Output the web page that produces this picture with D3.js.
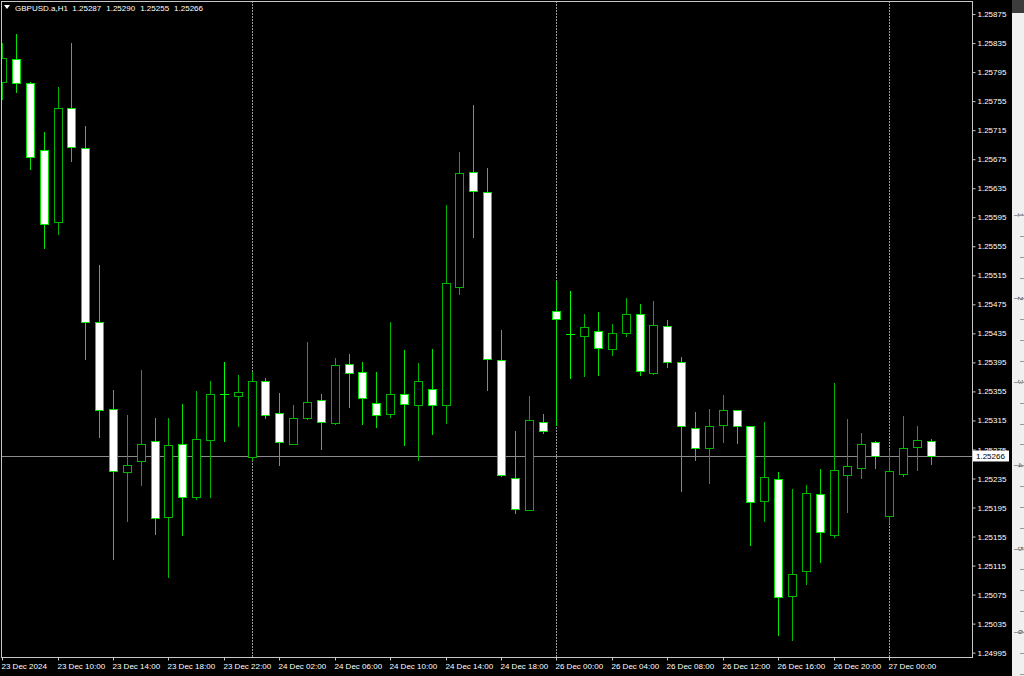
<!DOCTYPE html>
<html>
<head>
<meta charset="utf-8">
<script src="https://cdn.jsdelivr.net/npm/d3@7"></script>
<style>
  html, body { margin: 0; padding: 0; background: #000; overflow: hidden; }
  svg { display: block; }
  text { font-family: "Liberation Sans", Arial, sans-serif; }
</style>
</head>
<body>
<svg id="chart" width="1024" height="676"></svg>
<script>
// ---------- DATA ----------
const symbolTitle = "GBPUSD.a,H1";
const headerValues = ["1.25287", "1.25290", "1.25255", "1.25266"];

const times = [
  "23 Dec 06:00","23 Dec 07:00","23 Dec 08:00","23 Dec 09:00","23 Dec 10:00","23 Dec 11:00","23 Dec 12:00","23 Dec 13:00","23 Dec 14:00","23 Dec 15:00",
  "23 Dec 16:00","23 Dec 17:00","23 Dec 18:00","23 Dec 19:00","23 Dec 20:00","23 Dec 21:00","23 Dec 22:00","23 Dec 23:00","24 Dec 00:00","24 Dec 01:00",
  "24 Dec 02:00","24 Dec 03:00","24 Dec 04:00","24 Dec 05:00","24 Dec 06:00","24 Dec 07:00","24 Dec 08:00","24 Dec 09:00","24 Dec 10:00","24 Dec 11:00",
  "24 Dec 12:00","24 Dec 13:00","24 Dec 14:00","24 Dec 15:00","24 Dec 16:00","24 Dec 17:00","24 Dec 18:00","24 Dec 19:00","24 Dec 20:00","24 Dec 21:00",
  "26 Dec 00:00","26 Dec 01:00","26 Dec 02:00","26 Dec 03:00","26 Dec 04:00","26 Dec 05:00","26 Dec 06:00","26 Dec 07:00","26 Dec 08:00","26 Dec 09:00",
  "26 Dec 10:00","26 Dec 11:00","26 Dec 12:00","26 Dec 13:00","26 Dec 14:00","26 Dec 15:00","26 Dec 16:00","26 Dec 17:00","26 Dec 18:00","26 Dec 19:00",
  "26 Dec 20:00","26 Dec 21:00","26 Dec 22:00","26 Dec 23:00","27 Dec 00:00","27 Dec 01:00","27 Dec 02:00","27 Dec 03:00"
];

const opens = [
  1.25782,1.25813,1.25780,1.25688,1.25588,1.25746,1.25690,1.25451,1.25331,1.25244,
  1.25259,1.25286,1.25182,1.25282,1.25210,1.25288,1.25351,1.25349,1.25264,1.25369,
  1.25325,1.25283,1.25318,1.25343,1.25312,1.25393,1.25382,1.25339,1.25324,1.25352,
  1.25336,1.25358,1.25336,1.25499,1.25658,1.25630,1.25398,1.25235,1.25192,1.25313,
  1.25466,1.25434,1.25432,1.25438,1.25413,1.25435,1.25462,1.25381,1.25445,1.25395,
  1.25304,1.25277,1.25309,1.25329,1.25307,1.25204,1.25234,1.25073,1.25107,1.25214,
  1.25157,1.25240,1.25250,1.25285,1.25183,1.25241,1.25278,1.25287
];
const highs = [
  1.25835,1.25847,1.25782,1.25713,1.25775,1.25835,1.25721,1.25529,1.25357,1.25323,
  1.25385,1.25319,1.25318,1.25338,1.25355,1.25370,1.25395,1.25378,1.25382,1.25373,
  1.25353,1.25336,1.25423,1.25351,1.25401,1.25406,1.25395,1.25382,1.25450,1.25412,
  1.25394,1.25413,1.25612,1.25685,1.25750,1.25663,1.25440,1.25301,1.25349,1.25324,
  1.25507,1.25494,1.25462,1.25464,1.25448,1.25484,1.25476,1.25479,1.25454,1.25402,
  1.25327,1.25331,1.25350,1.25330,1.25308,1.25313,1.25244,1.25220,1.25226,1.25248,
  1.25366,1.25317,1.25297,1.25287,1.25274,1.25321,1.25308,1.25290
];
const lows = [
  1.25758,1.25768,1.25661,1.25552,1.25572,1.25673,1.25400,1.25292,1.25124,1.25177,
  1.25226,1.25159,1.25099,1.25157,1.25207,1.25209,1.25287,1.25307,1.25261,1.25318,
  1.25253,1.25282,1.25317,1.25276,1.25310,1.25334,1.25310,1.25306,1.25320,1.25281,
  1.25260,1.25296,1.25312,1.25489,1.25568,1.25357,1.25238,1.25188,1.25191,1.25297,
  1.25309,1.25374,1.25376,1.25377,1.25405,1.25431,1.25378,1.25379,1.25389,1.25218,
  1.25261,1.25229,1.25285,1.25284,1.25143,1.25176,1.25020,1.25012,1.25089,1.25120,
  1.25154,1.25189,1.25236,1.25250,1.25174,1.25238,1.25247,1.25255
];
const closes = [
  1.25814,1.25780,1.25678,1.25586,1.25746,1.25692,1.25450,1.25330,1.25246,1.25254,
  1.25283,1.25181,1.25281,1.25209,1.25290,1.25351,1.25351,1.25354,1.25370,1.25323,
  1.25285,1.25318,1.25340,1.25313,1.25391,1.25381,1.25346,1.25323,1.25351,1.25338,
  1.25369,1.25336,1.25504,1.25656,1.25631,1.25399,1.25240,1.25193,1.25316,1.25301,
  1.25455,1.25434,1.25444,1.25415,1.25435,1.25462,1.25383,1.25446,1.25396,1.25307,
  1.25277,1.25308,1.25329,1.25308,1.25202,1.25237,1.25072,1.25103,1.25215,1.25161,
  1.25247,1.25252,1.25282,1.25266,1.25246,1.25277,1.25288,1.25266
];

const timeTickTimes = [
  "23 Dec 06:00","23 Dec 10:00","23 Dec 14:00","23 Dec 18:00","23 Dec 22:00","24 Dec 02:00",
  "24 Dec 06:00","24 Dec 10:00","24 Dec 14:00","24 Dec 18:00","26 Dec 00:00","26 Dec 04:00",
  "26 Dec 08:00","26 Dec 12:00","26 Dec 16:00","26 Dec 20:00","27 Dec 00:00"
];
const timeTickLabels = [
  "23 Dec 2024","23 Dec 10:00","23 Dec 14:00","23 Dec 18:00","23 Dec 22:00","24 Dec 02:00",
  "24 Dec 06:00","24 Dec 10:00","24 Dec 14:00","24 Dec 18:00","26 Dec 00:00","26 Dec 04:00",
  "26 Dec 08:00","26 Dec 12:00","26 Dec 16:00","26 Dec 20:00","27 Dec 00:00"
];
const daySeparators = ["24 Dec 00:00","26 Dec 00:00","27 Dec 00:00"];

const priceTicks = [1.24995,1.25035,1.25075,1.25115,1.25155,1.25195,1.25235,1.25275,1.25315,1.25355,
  1.25395,1.25435,1.25475,1.25515,1.25555,1.25595,1.25635,1.25675,1.25715,1.25755,1.25795,1.25835,1.25875];
const currentPrice = 1.25266;
const rulerLabels = ["1","2","3","4","5","6"];

// ---------- LAYOUT ----------
const plotLeft = 1, plotRight = 972, plotTop = 1, plotBottom = 657;
const svg = d3.select("#chart");

svg.append("rect").attr("width", 1024).attr("height", 676).attr("fill", "#000");

const x = d3.scalePoint().domain(times).range([2.2, 930.6]);
const y = d3.scaleLinear().domain([1.24989, 1.25893]).range([plotBottom, plotTop]);

const bars = times.map((t, i) => ({ t, o: opens[i], h: highs[i], l: lows[i], c: closes[i] }));

// clip for plot area
svg.append("clipPath").attr("id", "plotclip")
  .append("rect").attr("x", plotLeft + 1).attr("y", plotTop + 1)
  .attr("width", plotRight - plotLeft - 1).attr("height", plotBottom - plotTop - 1);

const plot = svg.append("g").attr("clip-path", "url(#plotclip)");

// day separators
plot.selectAll("line.sep").data(daySeparators).join("line")
  .attr("class", "sep")
  .attr("x1", d => Math.round(x(d)) + 0.5).attr("x2", d => Math.round(x(d)) + 0.5)
  .attr("y1", plotTop).attr("y2", plotBottom)
  .attr("stroke", "#9a9a9a").attr("stroke-width", 1).attr("stroke-dasharray", "2,1");

// current price line
plot.append("line")
  .attr("x1", plotLeft).attr("x2", plotRight)
  .attr("y1", Math.round(y(currentPrice)) + 0.5).attr("y2", Math.round(y(currentPrice)) + 0.5)
  .attr("stroke", "#8c8c8c").attr("stroke-width", 1);

const bullColor = "#00b400", bearColor = "#00e400", dojiColor = "#00ff00";

const g = plot.selectAll("g.bar").data(bars).join("g").attr("class", "bar");
g.each(function(d) {
  const sel = d3.select(this);
  const cx = Math.round(x(d.t));
  const bull = d.c > d.o;
  const doji = Math.abs(d.c - d.o) < 0.000015;
  const col = doji ? dojiColor : (bull ? bullColor : bearColor);
  sel.append("line")
    .attr("x1", cx + 0.5).attr("x2", cx + 0.5)
    .attr("y1", Math.round(y(d.h))).attr("y2", Math.round(y(d.l)) + 1)
    .attr("stroke", col).attr("stroke-width", 1);
  if (doji) {
    const yy = Math.round(y(d.o)) + 0.5;
    sel.append("line").attr("x1", cx - 4).attr("x2", cx + 5)
      .attr("y1", yy).attr("y2", yy).attr("stroke", dojiColor).attr("stroke-width", 1);
  } else {
    const top = Math.round(y(Math.max(d.o, d.c)));
    const bot = Math.round(y(Math.min(d.o, d.c)));
    sel.append("rect")
      .attr("x", cx - 3.5).attr("width", 8)
      .attr("y", top + 0.5).attr("height", Math.max(1, bot - top))
      .attr("fill", bull ? "#000" : "#fff")
      .attr("stroke", col).attr("stroke-width", 1);
  }
});

// frame
svg.append("rect")
  .attr("x", plotLeft + 0.5).attr("y", plotTop + 0.5)
  .attr("width", plotRight - plotLeft).attr("height", plotBottom - plotTop)
  .attr("fill", "none").attr("stroke", "#c8c8c8").attr("stroke-width", 1);

// price axis
const yAxis = d3.axisRight(y).tickValues(priceTicks).tickFormat(d3.format(".5f"))
  .tickSize(3).tickPadding(2);
const ya = svg.append("g").attr("transform", `translate(${plotRight + 0.5},0)`).call(yAxis);
ya.select(".domain").remove();
ya.selectAll(".tick line").attr("stroke", "#c8c8c8");
ya.selectAll(".tick text").attr("fill", "#fff").attr("font-size", 8)
  .attr("font-family", "'Liberation Sans', Arial, sans-serif");

// current price label
const cpY = y(currentPrice);
svg.append("rect").attr("x", 973).attr("y", Math.round(cpY) - 5.5)
  .attr("width", 36).attr("height", 11).attr("fill", "#fff");
svg.append("text").attr("x", 976).attr("y", cpY).attr("dy", "0.35em")
  .attr("font-size", 8).attr("fill", "#000").text(d3.format(".5f")(currentPrice));

// time axis
const xAxis = d3.axisBottom(x).tickValues(timeTickTimes)
  .tickFormat(d => timeTickLabels[timeTickTimes.indexOf(d)]).tickSize(3).tickPadding(3);
const xa = svg.append("g").attr("transform", `translate(0.5,${plotBottom + 0.5})`).call(xAxis);
xa.select(".domain").remove();
xa.selectAll(".tick").attr("transform", d => `translate(${Math.round(x(d))},0)`);
xa.selectAll(".tick line").attr("stroke", "#c8c8c8");
xa.selectAll(".tick text").attr("fill", "#fff").attr("font-size", 8)
  .attr("text-anchor", "start").attr("x", -1)
  .attr("font-family", "'Liberation Sans', Arial, sans-serif");

// header
const header = svg.append("g");
header.append("path").attr("d", "M4,5 L10,5 L7,9 Z").attr("fill", "#fff");
const ht = header.append("text").attr("x", 15).attr("y", 11).attr("font-size", 8).attr("fill", "#fff");
ht.append("tspan").text(symbolTitle);
headerValues.forEach(v => ht.append("tspan").attr("dx", 5).text(v));

// right ruler strip (adjacent window)
const rs = svg.append("g");
rs.append("rect").attr("x", 1012).attr("y", 0).attr("width", 12).attr("height", 676).attr("fill", "#f0f0f0");
rs.append("rect").attr("x", 1012).attr("y", 0).attr("width", 12).attr("height", 13).attr("fill", "#3c3c3c");
const rulerY = d3.scaleLinear().domain([0, 5]).range([215, 632]);
rs.selectAll("text").data(rulerLabels).join("text")
  .attr("transform", (d, i) => `translate(1018,${rulerY(i)}) rotate(90)`)
  .attr("text-anchor", "middle").attr("font-size", 8).attr("fill", "#444").text(d => d);
rs.selectAll("line").data(d3.range(0, 6, 0.25)).join("line")
  .attr("x1", d => (d % 1 === 0 ? 1014 : 1020)).attr("x2", 1024)
  .attr("y1", d => Math.round(rulerY(d)) + 0.5).attr("y2", d => Math.round(rulerY(d)) + 0.5)
  .attr("stroke", "#999").attr("stroke-width", 1);
</script>
</body>
</html>
